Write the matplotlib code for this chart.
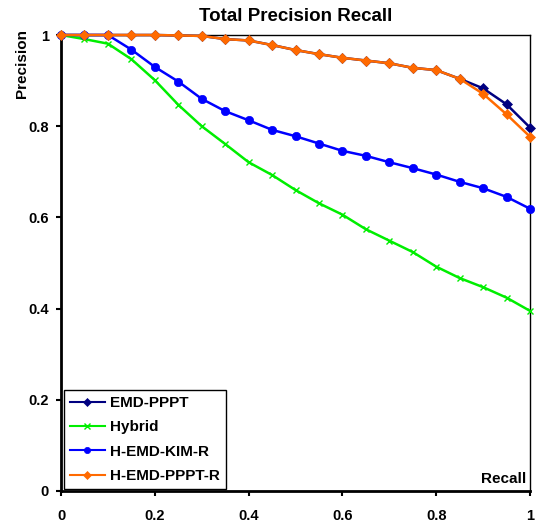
import numpy as np
import matplotlib.pyplot as plt
from matplotlib.lines import Line2D

plt.rcParams.update(
    {
        "font.family": ["Liberation Sans", "DejaVu Sans"],
        "font.weight": "bold",
        "axes.linewidth": 1.0,
    }
)

recall = [0.0, 0.05, 0.1, 0.15, 0.2, 0.25, 0.3, 0.35, 0.4, 0.45, 0.5,
          0.55, 0.6, 0.65, 0.7, 0.75, 0.8, 0.85, 0.9, 0.95, 1.0]

emd_pppt = [1.0, 1.0, 1.0, 1.0, 1.0, 0.999, 0.998, 0.991, 0.988, 0.978, 0.967,
            0.958, 0.950, 0.944, 0.938, 0.928, 0.923, 0.904, 0.883, 0.848, 0.797]
hybrid = [1.0, 0.991, 0.981, 0.947, 0.901, 0.847, 0.800, 0.761, 0.721, 0.693, 0.660,
          0.631, 0.606, 0.574, 0.549, 0.524, 0.492, 0.467, 0.447, 0.424, 0.395]
h_emd_kim_r = [1.0, 1.0, 1.0, 0.968, 0.930, 0.898, 0.860, 0.833, 0.813, 0.792, 0.778,
               0.762, 0.746, 0.735, 0.721, 0.708, 0.694, 0.678, 0.664, 0.645, 0.619]
h_emd_pppt_r = [1.0, 1.0, 1.0, 1.0, 1.0, 0.999, 0.998, 0.991, 0.988, 0.978, 0.967,
                0.958, 0.950, 0.944, 0.938, 0.928, 0.923, 0.904, 0.871, 0.826, 0.777]

SERIES = [
    ("EMD-PPPT", emd_pppt, "#000080", "D", 5.5),
    ("Hybrid", hybrid, "#00EE00", "x", 5.0),
    ("H-EMD-KIM-R", h_emd_kim_r, "#0000FF", "o", 6.0),
    ("H-EMD-PPPT-R", h_emd_pppt_r, "#FF6A00", "D", 5.5),
]

fig = plt.figure(figsize=(5.38, 5.26), dpi=100)
ax = fig.add_axes([61 / 538, 35 / 526, 469 / 538, 456 / 526])

handles = []
for name, vals, col, mk, ms in SERIES:
    ax.plot(recall, vals, color=col, marker=mk, markersize=ms, linewidth=1.8,
            markeredgewidth=1.0 if mk == "x" else 0.5, clip_on=False, zorder=3)
    handles.append(Line2D([], [], color=col, marker=mk, markersize=ms * 0.75, linewidth=1.5,
                          markeredgewidth=1.0 if mk == "x" else 0.5))

ax.set_xlim(0, 1)
ax.set_ylim(0, 1)
ax.set_xticks([0, 0.2, 0.4, 0.6, 0.8, 1])
ax.set_xticklabels(["0", "0.2", "0.4", "0.6", "0.8", "1"])
ax.set_yticks([0, 0.2, 0.4, 0.6, 0.8, 1])
ax.set_yticklabels(["0", "0.2", "0.4", "0.6", "0.8", "1"])
ax.tick_params(axis="x", direction="out", length=3.6, width=1.5, pad=9.5, labelsize=10.5)
ax.tick_params(axis="y", direction="out", length=3.6, width=1.5, pad=5, labelsize=10.5)
ax.spines["left"].set_linewidth(2.0)
ax.spines["bottom"].set_linewidth(2.0)

ax.set_title("Total Precision Recall", fontsize=13.5, fontweight="bold", pad=10)
fig.text(22 / 538, 1 - 63 / 526, "Precision", rotation=90, ha="center", va="center",
         fontsize=11, fontweight="bold")
ax.text(0.993, 0.012, "Recall", transform=ax.transAxes, ha="right", va="bottom",
        fontsize=11, fontweight="bold")

leg = ax.legend(handles, [s[0] for s in SERIES], loc="lower left",
                bbox_to_anchor=(0.006, 0.004), frameon=True, fancybox=False,
                edgecolor="black", framealpha=1.0, fontsize=11,
                handlelength=2.3, handletextpad=0.3, labelspacing=0.68,
                borderpad=0.4, borderaxespad=0.0)
leg.get_frame().set_linewidth(1.0)

fig.savefig("out.png", dpi=100)
